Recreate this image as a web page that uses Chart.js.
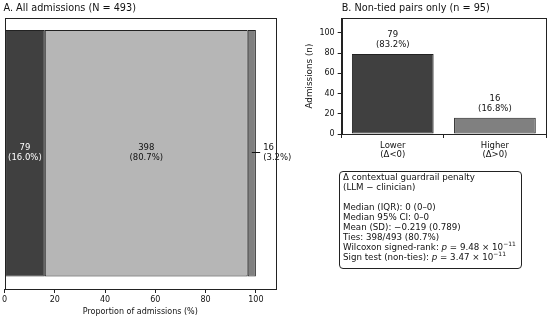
<!DOCTYPE html>
<html><head><meta charset="utf-8">
<script src="https://cdn.jsdelivr.net/npm/chart.js@4"></script>
<style>
html,body{margin:0;padding:0;background:#fff;}
#wrap{position:relative;width:550px;height:321px;overflow:hidden;font-family:'DejaVu Sans';}
#cA{position:absolute;left:0;top:0;}
#cB{position:absolute;left:290px;top:0;}
#box{position:absolute;left:339px;top:171px;width:183px;height:98px;box-sizing:border-box;border:1px solid #222;border-radius:4px;font-size:8.7px;line-height:9.93px;color:#111;padding:1px 0 0 3px;white-space:nowrap;}
#box sup{font-size:6px;vertical-align:0;position:relative;top:-3.6px;}
</style></head>
<body>
<div id="wrap">
<canvas id="cA" width="300" height="321" style="width:300px;height:321px"></canvas>
<canvas id="cB" width="260" height="165" style="width:260px;height:165px"></canvas>
<div id="box">
<div>Δ contextual guardrail penalty</div>
<div>(LLM − clinician)</div>
<div>&nbsp;</div>
<div>Median (IQR): 0 (0–0)</div>
<div>Median 95% CI: 0–0</div>
<div>Mean (SD): −0.219 (0.789)</div>
<div>Ties: 398/493 (80.7%)</div>
<div>Wilcoxon signed-rank: <i>p</i> = 9.48 × 10<sup>−11</sup></div>
<div>Sign test (non-ties): <i>p</i> = 3.47 × 10<sup>−11</sup></div>
</div>
</div>
<script>
// ---- data ----
const categoriesA = ['All admissions'];
const seriesNamesA = ['Lower (Δ<0)', 'Tie (Δ=0)', 'Higher (Δ>0)'];
const countsA = [79, 398, 16];
const totalA = 493;
const xTicksA = [0, 20, 40, 60, 80, 100];

const categoriesB = [['Lower', '(Δ<0)'], ['Higher', '(Δ>0)']];
const countsB = [79, 16];
const totalB = 95;
const yTicksB = [0, 20, 40, 60, 80, 100];

// ---- styles ----
const FONT = 'DejaVu Sans';
const INK = '#111';
const EDGE = '#222';
const colorsA = ['#404040', '#b6b6b6', '#808080'];
const colorsB = ['#404040', '#808080'];
Chart.defaults.font.family = FONT;
Chart.defaults.color = INK;
Chart.defaults.animation = false;

const pctA = countsA.map(c => c / totalA * 100);
const pctB = countsB.map(c => c / totalB * 100);

const frame = {
  id: 'frame',
  afterDraw(chart) {
    const a = chart.chartArea, ctx = chart.ctx;
    ctx.save();
    ctx.strokeStyle = EDGE; ctx.lineWidth = 1;
    ctx.strokeRect(Math.round(a.left) + 0.5, Math.round(a.top) + 0.5,
      Math.round(a.right) - Math.round(a.left), Math.round(a.bottom) - Math.round(a.top));
    ctx.restore();
  }
};

const labelsA = {
  id: 'labelsA',
  afterDatasetsDraw(chart) {
    const ctx = chart.ctx, xs = chart.scales.x;
    ctx.save();
    ctx.font = '8.5px "' + FONT + '"';
    ctx.textBaseline = 'middle';
    chart.data.datasets.forEach((ds, i) => {
      const el = chart.getDatasetMeta(i).data[0];
      const p = el.getProps(['x', 'base', 'y'], true);
      const cx = (p.x + p.base) / 2;
      const l1 = String(countsA[i]);
      const l2 = '(' + pctA[i].toFixed(1) + '%)';
      if (i < 2) {
        ctx.textAlign = 'center';
        ctx.fillStyle = i === 0 ? '#fff' : INK;
        ctx.fillText(l1, cx, p.y - 5.5);
        ctx.fillText(l2, cx, p.y + 4.5);
      } else {
        ctx.strokeStyle = INK; ctx.lineWidth = 1;
        ctx.beginPath();
        ctx.moveTo(cx, Math.round(p.y) - 0.5);
        ctx.lineTo(xs.getPixelForValue(101.7), Math.round(p.y) - 0.5);
        ctx.stroke();
        ctx.textAlign = 'left';
        ctx.fillStyle = INK;
        const tx = xs.getPixelForValue(102.9);
        ctx.fillText(l1, tx, p.y - 5.5);
        ctx.fillText(l2, tx, p.y + 4.5);
      }
    });
    ctx.restore();
  }
};

const labelsB = {
  id: 'labelsB',
  afterDatasetsDraw(chart) {
    const ctx = chart.ctx;
    ctx.save();
    ctx.font = '8.5px "' + FONT + '"';
    ctx.textBaseline = 'middle';
    ctx.textAlign = 'center';
    ctx.fillStyle = INK;
    chart.getDatasetMeta(0).data.forEach((el, i) => {
      const p = el.getProps(['x', 'y'], true);
      ctx.fillText(String(countsB[i]), p.x, p.y - 19.5);
      ctx.fillText('(' + pctB[i].toFixed(1) + '%)', p.x, p.y - 9.5);
    });
    ctx.restore();
  }
};

new Chart(document.getElementById('cA'), {
  type: 'bar',
  data: {
    labels: categoriesA,
    datasets: seriesNamesA.map((n, i) => ({
      label: n,
      data: [pctA[i]],
      backgroundColor: colorsA[i],
      borderColor: EDGE,
      borderWidth: 1,
      borderSkipped: false,
      barPercentage: 0.908,
      categoryPercentage: 1,
      stack: 's'
    }))
  },
  options: {
    indexAxis: 'y',
    responsive: false,
    maintainAspectRatio: false,
    layout: { padding: { left: 3.5, right: 24, top: 0, bottom: 0 } },
    plugins: {
      legend: { display: false },
      tooltip: { enabled: false },
      title: {
        display: true, text: 'A. All admissions (N = 493)', align: 'start',
        font: { size: 9.7, weight: 'normal' }, color: INK,
        padding: { top: 3, bottom: 3 }
      }
    },
    scales: {
      x: {
        stacked: true, min: 0, max: 108,
        afterBuildTicks(s) { s.ticks = xTicksA.map(v => ({ value: v })); },
        afterFit(s) { s.height = 32; },
        ticks: { font: { size: 8 }, color: INK, padding: 2, maxRotation: 0 },
        grid: { display: true, drawOnChartArea: false, drawTicks: true, tickLength: 4, color: EDGE },
        border: { display: true, color: EDGE },
        title: { display: true, text: 'Proportion of admissions (%)', font: { size: 8 }, color: INK, padding: { top: 0, bottom: 4.2 } }
      },
      y: { stacked: true, display: false }
    }
  },
  plugins: [labelsA, frame]
});

new Chart(document.getElementById('cB'), {
  type: 'bar',
  data: {
    labels: categoriesB,
    datasets: [{
      label: 'Admissions (n)',
      data: countsB,
      backgroundColor: colorsB,
      borderColor: EDGE,
      borderWidth: 1,
      borderSkipped: false,
      barPercentage: 0.8,
      categoryPercentage: 1
    }]
  },
  options: {
    responsive: false,
    maintainAspectRatio: false,
    layout: { padding: { left: 0, right: 4, top: 0, bottom: 0 } },
    plugins: {
      legend: { display: false },
      tooltip: { enabled: false },
      title: {
        display: true, text: 'B. Non-tied pairs only (n = 95)', align: 'start', fullSize: false,
        font: { size: 9.7, weight: 'normal' }, color: INK,
        padding: { top: 3, bottom: 3.5 }
      }
    },
    scales: {
      x: {
        afterFit(s) { s.height = 31; },
        ticks: { font: { size: 8.5, lineHeight: 1.1 }, color: INK, padding: 3, maxRotation: 0 },
        grid: { display: true, drawOnChartArea: false, drawTicks: true, tickLength: 4, color: EDGE },
        border: { display: true, color: EDGE }
      },
      y: {
        min: 0, max: 114.5,
        afterBuildTicks(s) { s.ticks = yTicksB.map(v => ({ value: v })); },
        afterFit(s) { s.width = 51.7; },
        ticks: { font: { size: 8 }, color: INK, padding: 3 },
        grid: { display: true, drawOnChartArea: false, drawTicks: true, tickLength: 4, color: EDGE },
        border: { display: true, color: EDGE },
        title: { display: true, text: 'Admissions (n)', font: { size: 8.8 }, color: INK, padding: { top: 14.7, bottom: 0 } }
      }
    }
  },
  plugins: [labelsB, frame]
});
</script>
</body></html>
